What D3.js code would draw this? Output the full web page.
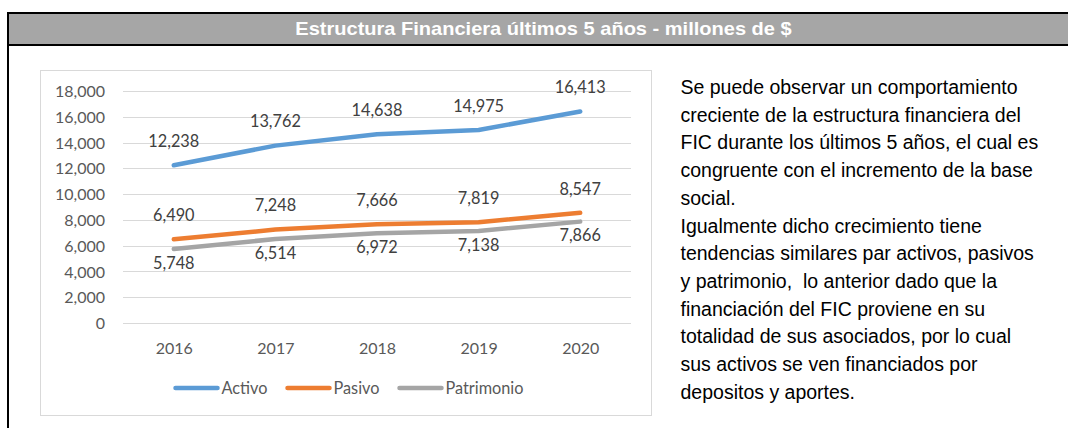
<!DOCTYPE html>
<html>
<head>
<meta charset="utf-8">
<script src="https://cdn.jsdelivr.net/npm/d3@7"></script>
<style>
  html, body { margin: 0; padding: 0; background: #ffffff; }
  svg { display: block; }
</style>
</head>
<body>
<svg id="chart" width="1068" height="428"></svg>
<script>
const title = "Estructura Financiera últimos 5 años - millones de $";
const years = ["2016", "2017", "2018", "2019", "2020"];
const activo = [12238, 13762, 14638, 14975, 16413];
const pasivo = [6490, 7248, 7666, 7819, 8547];
const patrimonio = [5748, 6514, 6972, 7138, 7866];
const seriesNames = ["Activo", "Pasivo", "Patrimonio"];
const seriesColors = ["#5B9BD5", "#ED7D31", "#A5A5A5"];
const yTicks = [0, 2000, 4000, 6000, 8000, 10000, 12000, 14000, 16000, 18000];
const paragraph = [
  "Se puede observar un comportamiento",
  "creciente de la estructura financiera del",
  "FIC durante los últimos 5 años, el cual es",
  "congruente con el incremento de la base",
  "social.",
  "Igualmente dicho crecimiento tiene",
  "tendencias similares par activos, pasivos",
  "y patrimonio,  lo anterior dado que la",
  "financiación del FIC proviene en su",
  "totalidad de sus asociados, por lo cual",
  "sus activos se ven financiados por",
  "depositos y aportes."
];

const series = [
  { name: seriesNames[0], values: activo, color: seriesColors[0], labelPos: "above" },
  { name: seriesNames[1], values: pasivo, color: seriesColors[1], labelPos: "above" },
  { name: seriesNames[2], values: patrimonio, color: seriesColors[2], labelPos: "below" }
];

const svg = d3.select("#chart");
const fmt = d3.format(",");
const chartFont = "Lato, 'Open Sans', sans-serif";

// Header bar
svg.append("rect").attr("x", 8).attr("y", 13).attr("width", 1060).attr("height", 32)
  .attr("fill", "#A6A6A6");
svg.append("line").attr("x1", 7).attr("x2", 1068).attr("y1", 13).attr("y2", 13)
  .attr("stroke", "#000").attr("stroke-width", 2);
svg.append("line").attr("x1", 7).attr("x2", 1068).attr("y1", 45).attr("y2", 45)
  .attr("stroke", "#000").attr("stroke-width", 2);
svg.append("line").attr("x1", 8).attr("x2", 8).attr("y1", 12).attr("y2", 428)
  .attr("stroke", "#000").attr("stroke-width", 2);
const titleText = svg.append("text").attr("x", 0).attr("y", 0)
  .attr("text-anchor", "middle")
  .attr("font-family", "'Liberation Sans', Arial, sans-serif")
  .attr("font-weight", "bold").attr("font-size", 17.5)
  .attr("fill", "#ffffff").text(title);
const tw = titleText.node().getComputedTextLength();
titleText.attr("transform", `translate(543.5,35) scale(${497 / tw},1)`);

// Chart box
svg.append("rect").attr("x", 40.5).attr("y", 70.5).attr("width", 611).attr("height", 345)
  .attr("fill", "#ffffff").attr("stroke", "#D9D9D9").attr("stroke-width", 1);

const x = d3.scalePoint().domain(years).range([123, 631]).padding(0.5);
const y = d3.scaleLinear().domain([0, 18000]).range([323, 91]);

// Gridlines
svg.append("g").selectAll("line").data(yTicks).join("line")
  .attr("x1", 123).attr("x2", 631)
  .attr("y1", d => Math.round(y(d)) + 0.5).attr("y2", d => Math.round(y(d)) + 0.5)
  .attr("stroke", "#D9D9D9").attr("stroke-width", 1);

// Y axis
const yAxis = d3.axisLeft(y).tickValues(yTicks).tickFormat(fmt).tickSize(0).tickPadding(0);
const gy = svg.append("g").attr("transform", "translate(105,0)").call(yAxis);
gy.select(".domain").remove();
gy.selectAll("text").attr("font-family", chartFont).attr("font-size", 16)
  .attr("fill", "#595959").attr("dy", "0.35em");

// X axis
const xAxis = d3.axisBottom(x).tickSize(0).tickPadding(0);
const gx = svg.append("g").attr("transform", "translate(0,348)").call(xAxis);
gx.select(".domain").remove();
gx.selectAll("text").attr("font-family", chartFont).attr("font-size", 16)
  .attr("fill", "#595959").attr("dy", "0.35em");

// Lines
const line = d3.line().x((d, i) => x(years[i])).y(d => y(d));
svg.append("g").selectAll("path").data(series).join("path")
  .attr("d", s => line(s.values))
  .attr("fill", "none").attr("stroke", s => s.color)
  .attr("stroke-width", 4.5).attr("stroke-linecap", "round").attr("stroke-linejoin", "round");

// Data labels
series.forEach(s => {
  svg.append("g").selectAll("text").data(s.values).join("text")
    .attr("x", (d, i) => x(years[i]))
    .attr("y", d => s.labelPos === "above" ? y(d) - 24 : y(d) + 14)
    .attr("dy", "0.35em")
    .attr("text-anchor", "middle")
    .attr("font-family", chartFont).attr("font-size", 16.3)
    .attr("fill", "#404040")
    .text(d => fmt(d));
});

// Legend
const legend = svg.append("g").attr("transform", "translate(0,388)");
const items = legend.selectAll("g").data(series).join("g");
items.append("line").attr("x1", 0).attr("x2", 42).attr("y1", 0).attr("y2", 0)
  .attr("stroke", s => s.color).attr("stroke-width", 4.5).attr("stroke-linecap", "round");
items.append("text").attr("x", 46).attr("y", 0).attr("dy", "0.35em")
  .attr("font-family", chartFont).attr("font-size", 16.3).attr("fill", "#595959")
  .text(s => s.name);
let widths = [];
items.each(function() { widths.push(d3.select(this).select("text").node().getComputedTextLength() + 46); });
const gap = 20;
const total = d3.sum(widths) + gap * (widths.length - 1);
let cx = 349.5 - total / 2;
items.each(function(d, i) {
  d3.select(this).attr("transform", `translate(${cx},0)`);
  cx += widths[i] + gap;
});

// Paragraph
svg.append("g").selectAll("text").data(paragraph).join("text")
  .attr("x", 680.5).attr("y", (d, i) => 94 + i * 27.7)
  .attr("font-family", "'Liberation Sans', Arial, sans-serif").attr("font-size", 19.5)
  .attr("fill", "#000000").attr("xml:space", "preserve").style("white-space", "pre")
  .text(d => d);
</script>
</body>
</html>
